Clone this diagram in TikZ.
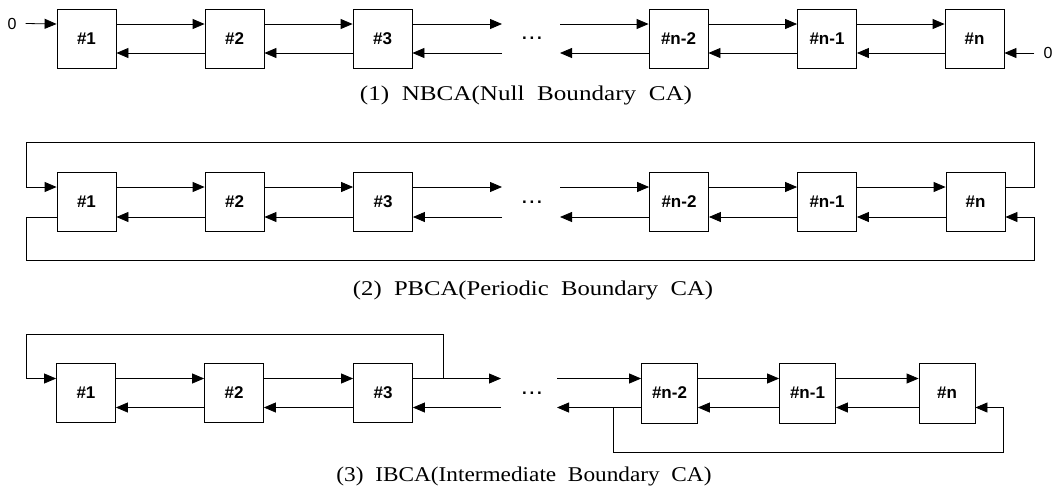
\documentclass[tikz,border=0pt]{standalone}
\usepackage{fontspec}
\usepackage{graphicx}
\setmainfont{Liberation Serif}
\setsansfont{Liberation Sans}
\usetikzlibrary{arrows.meta}
\begin{document}
\begin{tikzpicture}[x=1pt,y=-1pt,
  cell/.style={draw, line width=0.8pt, minimum width=59pt, minimum height=59pt, inner sep=0pt,
    font=\sffamily\bfseries\fontsize{17}{17}\selectfont},
  cellb/.style={cell, minimum width=56pt, minimum height=60pt},
  arr/.style={line width=0.8pt, -{Triangle[length=12pt,width=10pt]}},
  dotstxt/.style={font=\sffamily\bfseries\fontsize{17}{17}\selectfont, inner sep=0pt},
  zerotxt/.style={font=\sffamily\fontsize{16}{16}\selectfont, inner sep=0pt},
  captxt/.style={font=\fontsize{21}{21}\selectfont, inner sep=0pt}
]
\useasboundingbox (0,0) rectangle (1056,499);

% ---------- Row 1 ----------
\node[cell] (a1) at (86.5,38.5) {\#1};
\node[cell] (a2) at (234.5,38.5) {\#2};
\node[cell] (a3) at (382.5,38.5) {\#3};
\node[cell] (a4) at (678.5,38.5) {\#n-2};
\node[cell] (a5) at (827,38.5) {\#n-1};
\node[cell] (a6) at (974.5,38.5) {\#n};
\node[zerotxt] (z1) at (12,23.5) {0};
\node[zerotxt] (z2) at (1048,53) {0};
\node[dotstxt] (d1) at (532,38) {\,.\,.\,.\,};
\coordinate (a3u) at (502,24);
\coordinate (a3l) at (502,53);
\coordinate (a4u) at (560,24);
\coordinate (a4l) at (560,53);
\draw[arr] (z1.east) ++(9pt,0) -- ([yshift=14.5pt]a1.west);
\draw[arr] (z2.west) ++(-9pt,0) -- ([yshift=-14.5pt]a6.east);
\foreach \p/\q in {a1/a2,a2/a3,a4/a5,a5/a6}{
  \draw[arr] ([yshift=14.5pt]\p.east) -- ([yshift=14.5pt]\q.west);
  \draw[arr] ([yshift=-14.5pt]\q.west) -- ([yshift=-14.5pt]\p.east);
}
\draw[arr] ([yshift=14.5pt]a3.east) -- (a3u);
\draw[arr] (a3l) -- ([yshift=-14.5pt]a3.east);
\draw[arr] (a4u) -- ([yshift=14.5pt]a4.west);
\draw[arr] ([yshift=-14.5pt]a4.west) -- (a4l);
\node[captxt] (c1) at (526,95) {\resizebox{332pt}{\height}{(1)\ \ NBCA(Null\ \ Boundary\ \ CA)}};

% ---------- Row 2 ----------
\node[cell] (b1) at (86.5,202) {\#1};
\node[cell] (b2) at (234.5,202) {\#2};
\node[cell] (b3) at (383,202) {\#3};
\node[cell] (b4) at (679,202) {\#n-2};
\node[cell] (b5) at (827,202) {\#n-1};
\node[cell] (b6) at (975.5,202) {\#n};
\node[dotstxt] (d2) at (532,202) {\,.\,.\,.\,};
\coordinate (b3u) at (502,187);
\coordinate (b3l) at (502,217);
\coordinate (b4u) at (560,187);
\coordinate (b4l) at (560,217);
\foreach \p/\q in {b1/b2,b2/b3,b4/b5,b5/b6}{
  \draw[arr] ([yshift=15pt]\p.east) -- ([yshift=15pt]\q.west);
  \draw[arr] ([yshift=-15pt]\q.west) -- ([yshift=-15pt]\p.east);
}
\draw[arr] ([yshift=15pt]b3.east) -- (b3u);
\draw[arr] (b3l) -- ([yshift=-15pt]b3.east);
\draw[arr] (b4u) -- ([yshift=15pt]b4.west);
\draw[arr] ([yshift=-15pt]b4.west) -- (b4l);
\coordinate (pr) at (1034,142);
\coordinate (pl) at (26,142);
\coordinate (qr) at (1034,260);
\coordinate (ql) at (26,260);
\draw[arr] ([yshift=15pt]b6.east) -| (pr) -- (pl) |- ([yshift=15pt]b1.west);
\draw[arr] ([yshift=-15pt]b1.west) -| (ql) -- (qr) |- ([yshift=-15pt]b6.east);
\node[captxt] (c2) at (533,290) {\resizebox{360pt}{\height}{(2)\ \ PBCA(Periodic\ \ Boundary\ \ CA)}};

% ---------- Row 3 ----------
\node[cell] (e1) at (86,393) {\#1};
\node[cell] (e2) at (234,393) {\#2};
\node[cell] (e3) at (383,393) {\#3};
\node[cellb] (e4) at (669.5,393) {\#n-2};
\node[cellb] (e5) at (807.5,393) {\#n-1};
\node[cellb] (e6) at (947,393) {\#n};
\node[dotstxt] (d3) at (532,393) {\,.\,.\,.\,};
\coordinate (e3u) at (501,378.5);
\coordinate (e3l) at (501,407.5);
\coordinate (e4u) at (557,378.5);
\coordinate (e4l) at (557,407.5);
\foreach \p/\q in {e1/e2,e2/e3,e4/e5,e5/e6}{
  \draw[arr] ([yshift=14.5pt]\p.east) -- ([yshift=14.5pt]\q.west);
  \draw[arr] ([yshift=-14.5pt]\q.west) -- ([yshift=-14.5pt]\p.east);
}
\draw[arr] ([yshift=14.5pt]e3.east) -- (e3u);
\draw[arr] (e3l) -- ([yshift=-14.5pt]e3.east);
\draw[arr] (e4u) -- ([yshift=14.5pt]e4.west);
\draw[arr] ([yshift=-14.5pt]e4.west) -- (e4l);
\coordinate (tj) at (443,378.5);
\coordinate (tr) at (443,334);
\coordinate (tl) at (26,334);
\coordinate (bj) at (613,407.5);
\coordinate (bl) at (613,452);
\coordinate (br) at (1003,452);
\draw[arr] (tj) -- (tr) -- (tl) |- ([yshift=14.5pt]e1.west);
\draw[arr] (bj) -- (bl) -- (br) |- ([yshift=-14.5pt]e6.east);
\node[captxt] (c3) at (524,476) {\resizebox{375pt}{\height}{(3)\ \ IBCA(Intermediate\ \ Boundary\ \ CA)}};
\end{tikzpicture}
\end{document}
